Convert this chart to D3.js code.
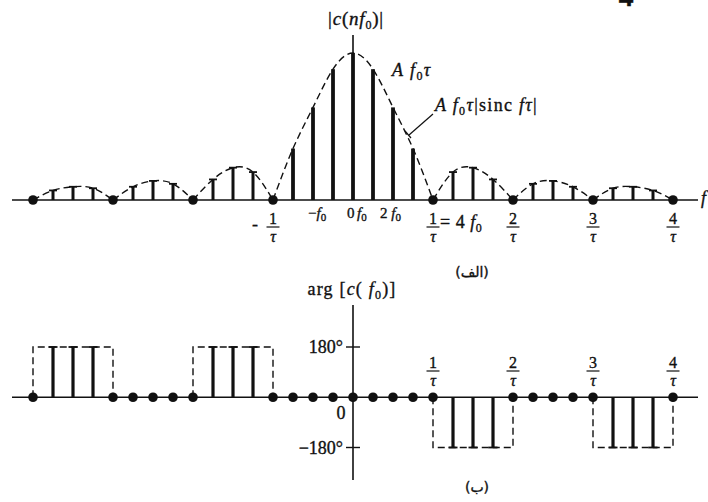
<!DOCTYPE html>
<html>
<head>
<meta charset="utf-8">
<script src="https://cdn.jsdelivr.net/npm/d3@7"></script>
<style>
  body { margin: 0; background: #fff; }
  svg { display: block; }
  text { font-family: "Liberation Serif", serif; fill: #111; stroke: #111; stroke-width: 0.35px; }
</style>
</head>
<body>
<svg width="708" height="502"></svg>
<script>
// harmonic index n (frequency = n f0)
const harmonics = [-16,-15,-14,-13,-12,-11,-10,-9,-8,-7,-6,-5,-4,-3,-2,-1,0,
                   1,2,3,4,5,6,7,8,9,10,11,12,13,14,15,16];
// |c(n f0)| relative to the peak A f0 tau
const magnitude = [0,0.065,0.09,0.08,0,0.09,0.13,0.11,0,0.14,0.22,0.19,0,0.35,0.63,0.89,1,
                   0.89,0.63,0.35,0,0.19,0.22,0.14,0,0.11,0.13,0.09,0,0.08,0.09,0.065,0];
// arg c(n f0) in degrees
const phase = [0,180,180,180,0,0,0,0,0,180,180,180,0,0,0,0,0,
               0,0,0,0,-180,-180,-180,0,0,0,0,0,-180,-180,-180,0];
const tauTicks = [1,2,3,4]; // k / tau, k = 4 harmonics
const phaseTicks = [180,-180];

const svg = d3.select("svg");
const data = harmonics.map((n, i) => ({ n, mag: magnitude[i], ph: phase[i] }));

const x = d3.scaleLinear().domain([-16,16]).range([33,673]);
const yTop = d3.scaleLinear().domain([0,1]).range([200,53]);
const yBot = d3.scaleLinear().domain([-180,180]).range([447.5,347]);

const ink = "#111";

// ---------- top: magnitude spectrum ----------
const gTop = svg.append("g");

// axes
gTop.append("line").attr("x1",12).attr("x2",698).attr("y1",yTop(0)).attr("y2",yTop(0))
  .attr("stroke",ink).attr("stroke-width",1.6);
gTop.append("line").attr("x1",x(0)).attr("x2",x(0)).attr("y1",35).attr("y2",yTop(0))
  .attr("stroke",ink).attr("stroke-width",1.6);

// dashed envelope, one lobe at a time between the zeros
const zeros = data.filter(d => d.mag === 0).map(d => d.n);
const env = d3.line().x(d => x(d.n)).y(d => yTop(d.mag)).curve(d3.curveNatural);
d3.pairs(zeros).forEach(([a, b]) => {
  const lobe = data.filter(d => d.n >= a && d.n <= b);
  gTop.append("path").attr("d", env(lobe)).attr("fill","none")
    .attr("stroke",ink).attr("stroke-width",1.4).attr("stroke-dasharray","7,4");
});

// stems
const stems = data.filter(d => d.mag > 0);
gTop.selectAll(".stem").data(stems).join("line")
  .attr("x1", d => x(d.n)).attr("x2", d => x(d.n))
  .attr("y1", yTop(0)).attr("y2", d => yTop(d.mag))
  .attr("stroke", ink).attr("stroke-width", d => Math.abs(d.n) < 4 ? 3.8 : 3);
gTop.selectAll(".cap").data(stems.filter(d => Math.abs(d.n) > 4)).join("line")
  .attr("x1", d => x(d.n) - 4).attr("x2", d => x(d.n) + 4)
  .attr("y1", d => yTop(d.mag)).attr("y2", d => yTop(d.mag))
  .attr("stroke", ink).attr("stroke-width", 1.8);

// dots at the zeros
gTop.selectAll(".dot").data(zeros.filter(n => n !== 0)).join("circle")
  .attr("cx", n => x(n)).attr("cy", yTop(0)).attr("r", 4.8).attr("fill", ink);

// fraction label k/tau
function frac(g, cx, yb, num) {
  g.append("text").attr("x", cx).attr("y", yb).attr("text-anchor","middle")
    .style("font-size","16px").text(num);
  g.append("line").attr("x1", cx - 6.5).attr("x2", cx + 6.5).attr("y1", yb + 3).attr("y2", yb + 3)
    .attr("stroke", ink).attr("stroke-width", 1.2);
  g.append("text").attr("x", cx).attr("y", yb + 18).attr("text-anchor","middle")
    .style("font-size","16px").style("font-style","italic").text("\u03c4");
}

frac(gTop, x(-4), 224, "1");
gTop.append("text").attr("x", x(-4) - 18).attr("y", 230).attr("text-anchor","middle")
  .style("font-size","18px").text("-");
tauTicks.forEach(k => frac(gTop, x(4 * k), 224, String(k)));

const eq = gTop.append("text").attr("x", x(4) + 7).attr("y", 228).style("font-size","18px")
  .style("letter-spacing","0.5px");
eq.append("tspan").text("= 4 ");
eq.append("tspan").style("font-style","italic").text("f");
eq.append("tspan").attr("dy", 4).style("font-size","12px").text("0");

function fLabel(g, x0, yb, pre) {
  const t = g.append("text").attr("x", x0).attr("y", yb).style("font-size","15px");
  if (pre) t.append("tspan").text(pre);
  t.append("tspan").style("font-style","italic").text("f");
  t.append("tspan").attr("dy", 3).style("font-size","11px").text("0");
  return t;
}
fLabel(gTop, x(-2.25), 218, "\u2212");
gTop.append("text").attr("x", x(-0.3)).attr("y", 218)
  .style("font-size","15px").text("0");
fLabel(gTop, x(0.2), 218, "");
fLabel(gTop, x(1.35), 218, "2 ");

gTop.append("text").attr("x", 701).attr("y", 204).style("font-size","18px")
  .style("font-style","italic").text("f");

// title |c(n f0)|
const tt = gTop.append("text").attr("x", 356).attr("y", 25).attr("text-anchor","middle")
  .style("font-size","19px").style("letter-spacing","0.8px");
tt.append("tspan").text("|");
tt.append("tspan").style("font-style","italic").text("c");
tt.append("tspan").text("(");
tt.append("tspan").style("font-style","italic").text("nf");
tt.append("tspan").attr("dy", 4).style("font-size","12px").text("0");
tt.append("tspan").attr("dy", -4).text(")|");

// annotations
const a1 = gTop.append("text").attr("x", 392).attr("y", 76).style("font-size","18px")
  .style("font-style","italic").style("letter-spacing","1.4px");
a1.append("tspan").text("A  f");
a1.append("tspan").attr("dy", 4).style("font-size","12px").style("font-style","normal").text("0");
a1.append("tspan").attr("dy", -4).text("\u03c4");

const a2 = gTop.append("text").attr("x", 435).attr("y", 111).style("font-size","18px")
  .style("font-style","italic").style("letter-spacing","1.3px");
a2.append("tspan").text("A  f");
a2.append("tspan").attr("dy", 4).style("font-size","12px").style("font-style","normal").text("0");
a2.append("tspan").attr("dy", -4).text("\u03c4");
a2.append("tspan").style("font-style","normal").text("|sinc ");
a2.append("tspan").text("f\u03c4");
a2.append("tspan").style("font-style","normal").text("|");

gTop.append("line").attr("x1", 433).attr("y1", 114).attr("x2", 409).attr("y2", 135)
  .attr("stroke", ink).attr("stroke-width", 1.2);
gTop.append("line").attr("x1", 405).attr("y1", 131).attr("x2", 411).attr("y2", 138)
  .attr("stroke", ink).attr("stroke-width", 1.2);

// stray page glyph at the top edge
svg.append("text").attr("x", 626).attr("y", 6).attr("text-anchor","middle")
  .style("font-family","'Liberation Sans', sans-serif")
  .style("font-size","26px").style("font-weight","bold").text("4");

svg.append("text").attr("x", 472).attr("y", 277).attr("text-anchor","middle")
  .style("font-family","'DejaVu Sans', sans-serif").style("font-size","14px").text("(الف)");

// ---------- bottom: phase spectrum ----------
const gBot = svg.append("g");

gBot.append("line").attr("x1",12).attr("x2",698).attr("y1",yBot(0)).attr("y2",yBot(0))
  .attr("stroke",ink).attr("stroke-width",1.6);
gBot.append("line").attr("x1",x(0)).attr("x2",x(0)).attr("y1",305).attr("y2",480)
  .attr("stroke",ink).attr("stroke-width",1.6);
gBot.selectAll(".tick").data(phaseTicks).join("line")
  .attr("x1", x(0) - 7).attr("x2", x(0) + 7)
  .attr("y1", d => yBot(d)).attr("y2", d => yBot(d))
  .attr("stroke", ink).attr("stroke-width", 1.4);
gBot.selectAll(".tlab").data(phaseTicks).join("text")
  .attr("x", x(0) - 10).attr("y", d => yBot(d) + 6).attr("text-anchor","end")
  .style("font-size","18px").text(d => (d < 0 ? "\u2212" : "") + Math.abs(d) + "\u00b0");
gBot.append("text").attr("x", x(0) - 12).attr("y", 419).attr("text-anchor","middle")
  .style("font-size","18px").text("0");

// dashed boxes over each run of non-zero phase
const runs = [];
data.forEach((d, i) => {
  if (d.ph !== 0 && (i === 0 || data[i - 1].ph === 0)) runs.push({ a: data[i - 1].n, v: d.ph });
  if (d.ph !== 0 && data[i + 1].ph === 0) runs[runs.length - 1].b = data[i + 1].n;
});
gBot.selectAll(".box").data(runs).join("path")
  .attr("d", r => `M${x(r.a)},${yBot(0)}V${yBot(r.v)}H${x(r.b)}V${yBot(0)}`)
  .attr("fill","none").attr("stroke",ink).attr("stroke-width",1.4).attr("stroke-dasharray","7,4");

const pstems = data.filter(d => d.ph !== 0);
gBot.selectAll(".pstem").data(pstems).join("line")
  .attr("x1", d => x(d.n)).attr("x2", d => x(d.n))
  .attr("y1", yBot(0)).attr("y2", d => yBot(d.ph))
  .attr("stroke", ink).attr("stroke-width", 3.2);
gBot.selectAll(".pcap").data(pstems).join("line")
  .attr("x1", d => x(d.n) - 4.5).attr("x2", d => x(d.n) + 4.5)
  .attr("y1", d => yBot(d.ph)).attr("y2", d => yBot(d.ph))
  .attr("stroke", ink).attr("stroke-width", 1.8);

gBot.selectAll(".pdot").data(data.filter(d => d.ph === 0)).join("circle")
  .attr("cx", d => x(d.n)).attr("cy", yBot(0)).attr("r", 4.8).attr("fill", ink);

tauTicks.forEach(k => frac(gBot, x(4 * k), 368, String(k)));

const at = gBot.append("text").attr("x", 352).attr("y", 295).attr("text-anchor","middle")
  .style("font-size","18px").style("letter-spacing","1.2px");
at.append("tspan").text("arg [");
at.append("tspan").style("font-style","italic").text("c");
at.append("tspan").text("( ");
at.append("tspan").style("font-style","italic").text("f");
at.append("tspan").attr("dy", 4).style("font-size","12px").text("0");
at.append("tspan").attr("dy", -4).text(")]");

svg.append("text").attr("x", 477).attr("y", 492).attr("text-anchor","middle")
  .style("font-family","'DejaVu Sans', sans-serif").style("font-size","14px").text("(ب)");
</script>
</body>
</html>
